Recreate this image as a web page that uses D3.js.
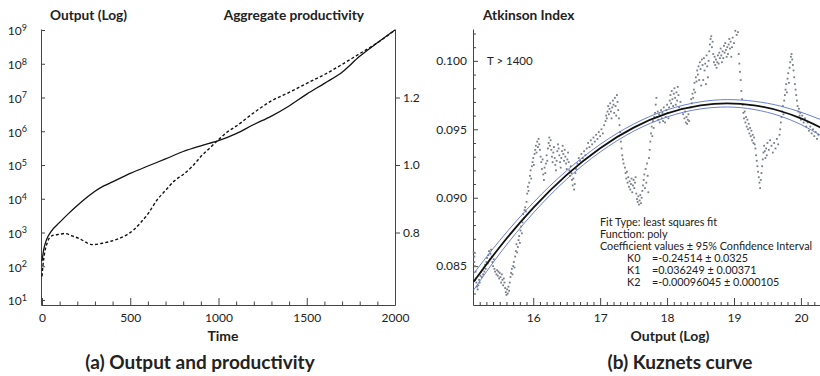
<!DOCTYPE html>
<html>
<head>
<meta charset="utf-8">
<script src="https://cdn.jsdelivr.net/npm/d3@7"></script>
<style>
  body { margin: 0; background: #fff; }
  text { font-family: Lato, "Open Sans", sans-serif; fill: #222; }
  .axis path, .axis line { stroke: #444; stroke-width: 1; }
  .axis text { font-size: 12px; fill: #222; font-family: Lato, sans-serif; }
</style>
</head>
<body>
<svg id="chart" width="820" height="376"></svg>
<script>
// ---- panel (a): output (log10) and aggregate productivity over time
const outTime = [0, 10, 25, 50, 100, 150, 200, 250, 300, 350, 400, 500, 600, 700, 800, 900, 1000, 1100, 1200, 1300, 1400, 1500, 1600, 1700, 1800, 1900, 2000];
const outLog10 = [2.15, 2.5, 2.78, 3.02, 3.3, 3.56, 3.8, 4.02, 4.22, 4.38, 4.5, 4.75, 4.97, 5.18, 5.4, 5.57, 5.72, 5.93, 6.2, 6.45, 6.75, 7.1, 7.42, 7.75, 8.22, 8.62, 9.0];

const prodTime = [0, 5, 15, 30, 55, 100, 130, 170, 220, 260, 290, 340, 390, 440, 480, 520, 560, 600, 650, 700, 750, 800, 850, 900, 950, 1000, 1050, 1100, 1200, 1300, 1400, 1500, 1600, 1700, 1800, 1900, 2000];
const prodValue = [0.67, 0.70, 0.74, 0.77, 0.79, 0.795, 0.797, 0.79, 0.78, 0.768, 0.764, 0.768, 0.774, 0.783, 0.793, 0.808, 0.83, 0.855, 0.895, 0.925, 0.953, 0.972, 0.995, 1.025, 1.05, 1.075, 1.098, 1.115, 1.155, 1.19, 1.215, 1.242, 1.268, 1.298, 1.33, 1.362, 1.40];

const timeTicks = [0, 500, 1000, 1500, 2000];
const outTicks = [1e1, 1e2, 1e3, 1e4, 1e5, 1e6, 1e7, 1e8, 1e9];
const prodTicks = [0.8, 1.0, 1.2];

// ---- panel (b): Atkinson index vs log output, T > 1400
const atkinsonPts = [
  [15.11,0.0860],[15.12,0.0857],[15.12,0.0853],[15.13,0.0850],[15.14,0.0846],[15.14,0.0841],[15.15,0.0838],[15.16,0.0835],[15.17,0.0833],[15.18,0.0836],
  [15.19,0.0840],[15.20,0.0838],[15.21,0.0843],[15.22,0.0846],[15.23,0.0842],[15.24,0.0847],[15.25,0.0844],[15.26,0.0849],[15.27,0.0846],[15.28,0.0851],
  [15.29,0.0848],[15.30,0.0853],[15.31,0.0856],[15.32,0.0852],[15.33,0.0858],[15.34,0.0861],[15.35,0.0855],[15.36,0.0859],[15.37,0.0862],[15.38,0.0857],
  [15.39,0.0853],[15.40,0.0850],[15.41,0.0855],[15.42,0.0848],[15.43,0.0846],[15.45,0.0844],[15.46,0.0847],[15.47,0.0843],[15.48,0.0846],[15.49,0.0841],
  [15.50,0.0845],[15.51,0.0842],[15.52,0.0838],[15.53,0.0844],[15.54,0.0840],[15.55,0.0836],[15.56,0.0841],[15.57,0.0838],[15.58,0.0834],[15.59,0.0831],
  [15.60,0.0829],[15.61,0.0833],[15.62,0.0830],[15.63,0.0835],[15.64,0.0832],[15.65,0.0838],[15.66,0.0842],[15.67,0.0845],[15.68,0.0848],[15.69,0.0844],
  [15.70,0.0850],[15.71,0.0853],[15.72,0.0849],[15.73,0.0857],[15.74,0.0861],[15.75,0.0866],[15.76,0.0860],[15.77,0.0864],[15.78,0.0869],[15.79,0.0872],
  [15.80,0.0867],[15.81,0.0876],[15.82,0.0879],[15.83,0.0874],[15.84,0.0882],[15.85,0.0888],[15.86,0.0885],[15.87,0.0891],[15.88,0.0893],[15.89,0.0890],
  [15.90,0.0897],[15.91,0.0903],[15.92,0.0908],[15.93,0.0905],[15.94,0.0911],[15.95,0.0916],[15.96,0.0920],[15.97,0.0914],[15.98,0.0923],[15.99,0.0926],
  [16.00,0.0929],[16.01,0.0924],[16.02,0.0932],[16.03,0.0935],[16.04,0.0938],[16.05,0.0933],[16.06,0.0941],[16.07,0.0937],[16.08,0.0943],[16.09,0.0939],
  [16.10,0.0935],[16.11,0.0930],[16.12,0.0926],[16.13,0.0921],[16.14,0.0928],[16.15,0.0917],[16.16,0.0913],[16.17,0.0922],[16.18,0.0918],[16.19,0.0925],
  [16.20,0.0931],[16.21,0.0927],[16.22,0.0936],[16.23,0.0940],[16.24,0.0944],[16.25,0.0938],[16.26,0.0942],[16.27,0.0935],[16.28,0.0930],[16.29,0.0926],
  [16.30,0.0933],[16.31,0.0937],[16.32,0.0929],[16.33,0.0924],[16.34,0.0920],[16.35,0.0927],[16.36,0.0934],[16.37,0.0939],[16.38,0.0936],[16.39,0.0931],
  [16.40,0.0926],[16.41,0.0922],[16.42,0.0929],[16.43,0.0934],[16.44,0.0938],[16.45,0.0932],[16.46,0.0927],[16.47,0.0935],[16.48,0.0930],[16.49,0.0925],
  [16.50,0.0921],[16.51,0.0928],[16.52,0.0933],[16.53,0.0926],[16.54,0.0920],[16.55,0.0916],[16.56,0.0923],[16.57,0.0918],[16.58,0.0913],[16.59,0.0909],
  [16.60,0.0914],[16.61,0.0906],[16.62,0.0910],[16.63,0.0918],[16.64,0.0921],[16.66,0.0925],[16.68,0.0929],[16.70,0.0927],[16.72,0.0932],[16.74,0.0929],
  [16.76,0.0934],[16.78,0.0931],[16.80,0.0936],[16.82,0.0940],[16.84,0.0937],[16.86,0.0942],[16.88,0.0939],[16.90,0.0944],[16.92,0.0941],[16.94,0.0946],
  [16.96,0.0943],[16.98,0.0948],[17.00,0.0945],[17.02,0.0950],[17.04,0.0947],[17.06,0.0953],[17.08,0.0956],[17.09,0.0960],[17.10,0.0958],[17.11,0.0963],
  [17.12,0.0967],[17.13,0.0961],[17.14,0.0965],[17.15,0.0969],[17.16,0.0963],[17.17,0.0958],[17.18,0.0966],[17.19,0.0971],[17.20,0.0968],[17.21,0.0962],
  [17.22,0.0973],[17.23,0.0967],[17.24,0.0960],[17.25,0.0975],[17.26,0.0970],[17.27,0.0964],[17.28,0.0958],[17.29,0.0953],[17.30,0.0948],[17.31,0.0941],
  [17.32,0.0936],[17.33,0.0931],[17.34,0.0928],[17.35,0.0925],[17.37,0.0922],[17.38,0.0918],[17.39,0.0914],[17.40,0.0919],[17.41,0.0911],[17.42,0.0915],
  [17.43,0.0908],[17.44,0.0912],[17.45,0.0906],[17.46,0.0910],[17.47,0.0914],[17.48,0.0904],[17.49,0.0909],[17.50,0.0913],[17.51,0.0907],[17.52,0.0911],
  [17.53,0.0915],[17.54,0.0903],[17.55,0.0899],[17.56,0.0897],[17.57,0.0901],[17.58,0.0895],[17.59,0.0898],[17.60,0.0902],[17.61,0.0896],[17.62,0.0900],
  [17.63,0.0905],[17.64,0.0909],[17.65,0.0913],[17.66,0.0917],[17.67,0.0907],[17.68,0.0921],[17.69,0.0911],[17.70,0.0925],[17.71,0.0916],[17.72,0.0904],
  [17.73,0.0929],[17.74,0.0935],[17.75,0.0941],[17.76,0.0947],[17.77,0.0952],[17.78,0.0945],[17.79,0.0956],[17.80,0.0951],[17.81,0.0959],[17.82,0.0962],
  [17.83,0.0968],[17.84,0.0973],[17.85,0.0959],[17.86,0.0963],[17.87,0.0957],[17.88,0.0961],[17.89,0.0955],[17.90,0.0960],[17.91,0.0964],[17.92,0.0958],
  [17.93,0.0962],[17.94,0.0956],[17.95,0.0966],[17.96,0.0961],[17.97,0.0955],[17.98,0.0959],[17.99,0.0964],[18.00,0.0968],[18.01,0.0962],[18.02,0.0958],
  [18.03,0.0966],[18.04,0.0971],[18.05,0.0975],[18.06,0.0969],[18.07,0.0978],[18.08,0.0972],[18.09,0.0967],[18.10,0.0976],[18.11,0.0980],[18.12,0.0973],
  [18.13,0.0968],[18.14,0.0977],[18.15,0.0971],[18.16,0.0981],[18.17,0.0975],[18.18,0.0966],[18.20,0.0970],[18.22,0.0965],[18.24,0.0961],[18.26,0.0958],
  [18.27,0.0963],[18.28,0.0955],[18.29,0.0959],[18.30,0.0954],[18.31,0.0957],[18.32,0.0961],[18.33,0.0956],[18.35,0.0966],[18.36,0.0972],[18.37,0.0969],
  [18.38,0.0976],[18.39,0.0973],[18.40,0.0979],[18.41,0.0984],[18.42,0.0977],[18.43,0.0988],[18.44,0.0985],[18.45,0.0993],[18.46,0.0990],[18.47,0.0996],
  [18.48,0.0986],[18.49,0.0999],[18.50,0.0994],[18.51,0.0982],[18.52,0.1001],[18.53,0.0997],[18.54,0.0986],[18.55,0.1002],[18.56,0.0993],[18.57,0.0998],
  [18.58,0.0983],[18.59,0.1004],[18.60,0.0996],[18.61,0.0988],[18.62,0.1000],[18.63,0.1007],[18.64,0.1012],[18.65,0.1016],[18.66,0.1018],[18.67,0.1010],
  [18.68,0.1014],[18.69,0.1005],[18.70,0.0999],[18.71,0.1003],[18.72,0.0997],[18.73,0.1001],[18.74,0.0995],[18.75,0.0999],[18.76,0.1004],[18.77,0.0998],
  [18.78,0.1006],[18.79,0.1002],[18.80,0.1009],[18.81,0.1004],[18.82,0.0999],[18.83,0.1007],[18.84,0.1002],[18.85,0.1011],[18.86,0.1006],[18.87,0.1013],
  [18.88,0.1008],[18.89,0.1003],[18.90,0.1010],[18.91,0.1005],[18.92,0.1012],[18.93,0.1016],[18.94,0.1009],[18.95,0.1014],[18.96,0.1003],[18.97,0.1010],
  [18.98,0.1017],[19.00,0.1013],[19.02,0.1022],[19.04,0.1019],[19.06,0.1021],[19.07,0.1005],[19.08,0.0998],[19.09,0.0992],[19.10,0.0986],[19.11,0.0978],
  [19.12,0.0972],[19.13,0.0968],[19.14,0.0962],[19.15,0.0958],[19.16,0.0963],[19.17,0.0955],[19.18,0.0959],[19.19,0.0952],[19.20,0.0957],[19.21,0.0950],
  [19.22,0.0954],[19.23,0.0947],[19.24,0.0951],[19.25,0.0945],[19.26,0.0949],[19.27,0.0942],[19.28,0.0946],[19.29,0.0940],[19.30,0.0944],[19.31,0.0939],
  [19.32,0.0936],[19.33,0.0931],[19.34,0.0927],[19.35,0.0923],[19.36,0.0919],[19.37,0.0915],[19.38,0.0911],[19.39,0.0907],[19.40,0.0913],[19.41,0.0918],
  [19.42,0.0923],[19.43,0.0928],[19.44,0.0933],[19.45,0.0938],[19.46,0.0934],[19.47,0.0929],[19.48,0.0936],[19.49,0.0931],[19.50,0.0940],[19.52,0.0935],
  [19.54,0.0942],[19.56,0.0938],[19.58,0.0933],[19.60,0.0940],[19.62,0.0936],[19.64,0.0943],[19.66,0.0939],[19.68,0.0946],[19.69,0.0950],[19.70,0.0955],
  [19.71,0.0959],[19.72,0.0963],[19.73,0.0967],[19.74,0.0961],[19.75,0.0971],[19.76,0.0975],[19.77,0.0979],[19.78,0.0983],[19.79,0.0977],[19.80,0.0987],
  [19.81,0.0991],[19.82,0.0984],[19.83,0.0995],[19.84,0.0999],[19.85,0.1003],[19.86,0.1005],[19.87,0.1001],[19.88,0.0997],[19.89,0.0993],[19.90,0.0988],
  [19.91,0.0983],[19.92,0.0979],[19.93,0.0975],[19.94,0.0971],[19.95,0.0967],[19.96,0.0963],[19.97,0.0965],[19.98,0.0960],[19.99,0.0962],[20.00,0.0957],
  [20.02,0.0960],[20.04,0.0955],[20.06,0.0958],[20.08,0.0952],[20.10,0.0955],[20.12,0.0949],[20.14,0.0952],[20.16,0.0947],[20.18,0.0950],[20.20,0.0945],
  [20.22,0.0948],[20.24,0.0943],[20.26,0.0946]
];

// fitted quadratic and its 95% band
const fitX     = [15.11, 15.5, 16.0, 16.5, 17.0, 17.5, 18.0, 18.5, 18.9, 19.3, 19.7, 20.0, 20.3];
const fitY     = [0.08386, 0.08640, 0.08926, 0.09167, 0.09362, 0.09512, 0.09616, 0.09675, 0.09690, 0.09675, 0.09632, 0.09580, 0.09512];
const fitUpper = [0.08446, 0.08688, 0.08964, 0.09198, 0.09390, 0.09538, 0.09642, 0.09701, 0.09717, 0.09705, 0.09669, 0.09625, 0.09570];
const fitLower = [0.08326, 0.08592, 0.08888, 0.09136, 0.09334, 0.09486, 0.09590, 0.09649, 0.09663, 0.09645, 0.09595, 0.09535, 0.09454];

const logOutTicks = [16, 17, 18, 19, 20];
const atkTicks = [0.085, 0.090, 0.095, 0.100];

const fitText = [
  "Fit Type: least squares fit",
  "Function: poly",
  "Coefficient values \u00b1 95% Confidence Interval"
];
const coefNames = ["K0", "K1", "K2"];
const coefValues = ["=-0.24514 \u00b1 0.0325", "=0.036249 \u00b1 0.00371", "=-0.00096045 \u00b1 0.000105"];

const svg = d3.select("#chart");

// ================= panel (a) =================
const xT = d3.scaleLinear().domain([0, 2000]).range([42, 395]);
const yOut = d3.scaleLog().domain([Math.pow(10, 0.852), Math.pow(10, 9.03)]).range([305, 29]);
const yProd = d3.scaleLinear().domain([0.5852, 1.403]).range([305, 29]);

const gA = svg.append("g");

gA.append("g").attr("class", "axis")
  .attr("transform", "translate(41,0)")
  .call(d3.axisLeft(yOut).tickValues(outTicks).tickSizeInner(-4).tickSizeOuter(0).tickPadding(14).tickFormat(""))
  .selectAll(".tick text")
  .each(function (d) {
    const t = d3.select(this).attr("dy", "0.4em").attr("font-size", "12.5px");
    t.append("tspan").text("10");
    t.append("tspan").attr("dy", "-0.5em").attr("font-size", "9px").text(Math.round(Math.log10(d)));
  });

gA.append("g").attr("class", "axis")
  .attr("transform", "translate(395,0)")
  .call(d3.axisRight(yProd).tickValues(prodTicks).tickSizeInner(5).tickSizeOuter(0).tickPadding(3).tickFormat(d3.format(".1f")));

gA.append("g").attr("class", "axis")
  .attr("transform", "translate(0,305)")
  .call(d3.axisBottom(xT.copy().range([41, 395]).domain([xT.invert(41), 2000])).tickValues(timeTicks).tickSizeInner(-7).tickSizeOuter(0).tickPadding(8).tickFormat(d3.format("d")));

gA.append("g").attr("class", "axis")
  .attr("transform", "translate(0,305)")
  .call(d3.axisBottom(xT).tickValues(d3.range(100, 2000, 100).filter(v => v % 500)).tickSizeInner(-3.5).tickSizeOuter(0).tickFormat(""))
  .select(".domain").remove();

const outLine = d3.line().x((d, i) => xT(outTime[i])).y(d => yOut(Math.pow(10, d))).curve(d3.curveMonotoneX);
gA.append("path").attr("d", outLine(outLog10))
  .attr("fill", "none").attr("stroke", "#111").attr("stroke-width", 1.3);

const prodLine = d3.line().x((d, i) => xT(prodTime[i])).y(d => yProd(d)).curve(d3.curveMonotoneX);
gA.append("path").attr("d", prodLine(prodValue))
  .attr("fill", "none").attr("stroke", "#111").attr("stroke-width", 1.4).attr("stroke-dasharray", "3,2.2");

gA.append("text").attr("x", 50).attr("y", 20).attr("font-size", "13.7px").attr("font-weight", "bold").text("Output (Log)");
gA.append("text").attr("x", 364).attr("y", 20).attr("text-anchor", "end").attr("font-size", "13.7px").attr("font-weight", "bold").text("Aggregate productivity");
gA.append("text").attr("x", 223).attr("y", 341).attr("text-anchor", "middle").attr("font-size", "14px").attr("font-weight", "bold").text("Time");
gA.append("text").attr("x", 200).attr("y", 369).attr("text-anchor", "middle").attr("font-size", "19px").attr("font-weight", "bold").text("(a) Output and productivity");

// ================= panel (b) =================
const xL = d3.scaleLinear().domain([15.1, 20.3]).range([473, 821]);
const yA = d3.scaleLinear().domain([0.08216, 0.10233]).range([305, 29]);

const gB = svg.append("g");

gB.append("g").attr("class", "axis")
  .attr("transform", "translate(473,0)")
  .call(d3.axisLeft(yA).tickValues(atkTicks).tickSizeInner(-5).tickSizeOuter(0).tickPadding(6).tickFormat(d3.format(".3f")));
gB.append("g").attr("class", "axis")
  .attr("transform", "translate(473,0)")
  .call(d3.axisLeft(yA).tickValues(d3.range(83, 103).map(v => v / 1000).filter(v => Math.round(v * 1000) % 5)).tickSizeInner(-3).tickSizeOuter(0).tickFormat(""))
  .select(".domain").remove();

gB.append("g").attr("class", "axis")
  .attr("transform", "translate(0,305)")
  .call(d3.axisBottom(xL).tickValues(logOutTicks).tickSizeInner(-7).tickSizeOuter(0).tickPadding(8).tickFormat(d3.format("d")));
gB.append("g").attr("class", "axis")
  .attr("transform", "translate(0,305)")
  .call(d3.axisBottom(xL).tickValues(d3.range(152, 203).map(v => v / 10).filter(v => Math.round(v * 10) % 10)).tickSizeInner(-3).tickSizeOuter(0).tickFormat(""))
  .select(".domain").remove();

gB.append("g").selectAll("rect").data(atkinsonPts).join("rect")
  .attr("x", d => xL(d[0]) - 0.9).attr("y", d => yA(d[1]) - 0.9)
  .attr("width", 1.8).attr("height", 1.8).attr("fill", "#767e87");

const bandLine = arr => d3.line().x((d, i) => xL(fitX[i])).y(d => yA(d)).curve(d3.curveMonotoneX)(arr);
gB.append("path").attr("d", bandLine(fitUpper)).attr("fill", "none").attr("stroke", "#5b6fd0").attr("stroke-width", 0.9);
gB.append("path").attr("d", bandLine(fitLower)).attr("fill", "none").attr("stroke", "#5b6fd0").attr("stroke-width", 0.9);
gB.append("path").attr("d", bandLine(fitY)).attr("fill", "none").attr("stroke", "#111").attr("stroke-width", 1.8);

gB.append("text").attr("x", 487).attr("y", 65).attr("font-size", "11.5px").text("T > 1400");

const ft = gB.append("g").attr("font-size", "10.8px");
fitText.forEach((s, i) => ft.append("text").attr("x", 600).attr("y", 226 + i * 12).text(s));
coefNames.forEach((s, i) => {
  ft.append("text").attr("x", 627).attr("y", 262 + i * 12).text(s);
  ft.append("text").attr("x", 652).attr("y", 262 + i * 12).text(coefValues[i]);
});

gB.append("text").attr("x", 670).attr("y", 341).attr("text-anchor", "middle").attr("font-size", "14px").attr("font-weight", "bold").text("Output (Log)");
gB.append("text").attr("x", 680).attr("y", 369).attr("text-anchor", "middle").attr("font-size", "19px").attr("font-weight", "bold").text("(b) Kuznets curve");
gB.append("text").attr("x", 483).attr("y", 20).attr("font-size", "13.7px").attr("font-weight", "bold").text("Atkinson Index");
</script>
</body>
</html>
